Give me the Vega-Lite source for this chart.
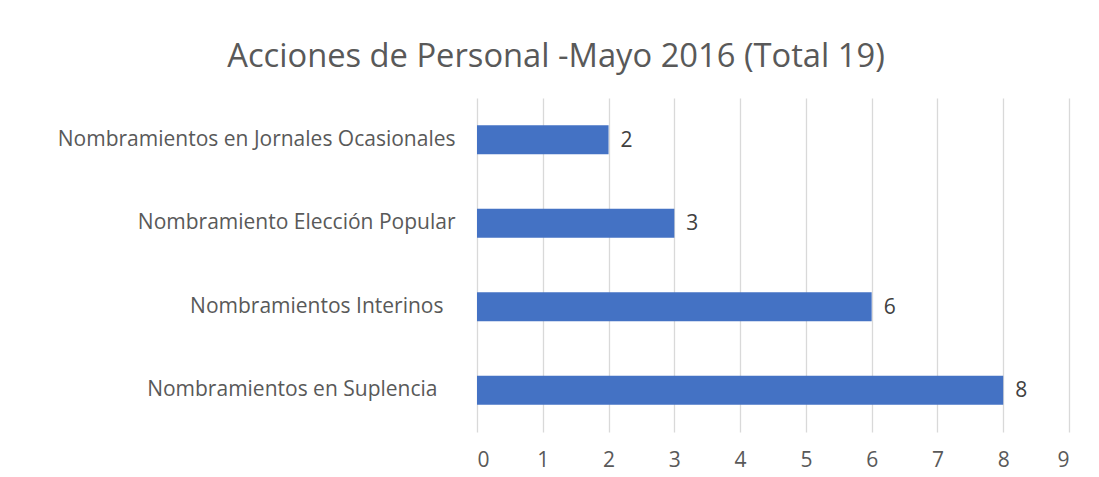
{
  "$schema": "https://vega.github.io/schema/vega-lite/v6.json",
  "autosize": {"type": "none"},
  "padding": {"left": 477, "top": 98, "right": 30, "bottom": 45},
  "width": 592,
  "height": 334,
  "background": "white",
  "title": {
    "text": "Acciones de Personal -Mayo 2016 (Total 19)",
    "font": "Open Sans",
    "fontSize": 32.7,
    "fontWeight": "normal",
    "color": "#595959",
    "anchor": "middle",
    "frame": "group",
    "dx": -217,
    "offset": 24
  },
  "data": {
    "values": [
      {"categoria": "Nombramientos en Jornales Ocasionales", "valor": 2},
      {"categoria": "Nombramiento Elección Popular", "valor": 3},
      {"categoria": "Nombramientos Interinos", "valor": 6},
      {"categoria": "Nombramientos en Suplencia", "valor": 8}
    ]
  },
  "encoding": {
    "y": {
      "field": "categoria",
      "type": "nominal",
      "sort": null,
      "title": null,
      "scale": {"paddingInner": 0.65, "paddingOuter": 0.325},
      "axis": {
        "domain": false,
        "ticks": false,
        "labelFont": "Open Sans",
        "labelFontSize": 21,
        "labelColor": "#595959",
        "labelPadding": {
          "condition": [
            {"test": "datum.value == 'Nombramientos Interinos'", "value": 34},
            {"test": "datum.value == 'Nombramientos en Suplencia'", "value": 40}
          ],
          "value": 22
        },
        "labelLimit": 500
      }
    },
    "x": {
      "field": "valor",
      "type": "quantitative",
      "title": null,
      "scale": {"domain": [0, 9], "nice": false},
      "axis": {
        "values": [0, 1, 2, 3, 4, 5, 6, 7, 8, 9],
        "domain": false,
        "ticks": false,
        "grid": true,
        "gridColor": "#d9d9d9",
        "gridWidth": 1.3,
        "labelFont": "Open Sans",
        "labelFontSize": 21,
        "labelColor": "#595959",
        "labelPadding": 17
      }
    }
  },
  "layer": [
    {"mark": {"type": "bar", "color": "#4472C4"}},
    {
      "mark": {
        "type": "text",
        "align": "left",
        "dx": 12,
        "dy": 1,
        "font": "Open Sans",
        "fontSize": 21,
        "color": "#404040"
      },
      "encoding": {"text": {"field": "valor", "type": "quantitative"}}
    }
  ],
  "config": {"view": {"stroke": null}}
}
